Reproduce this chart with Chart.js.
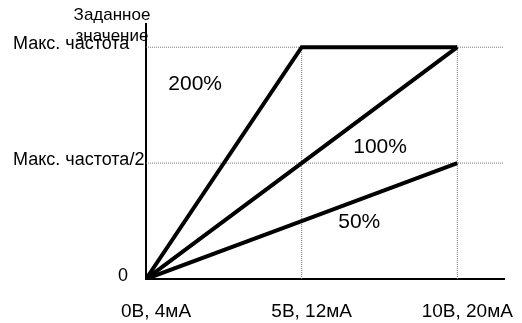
<!DOCTYPE html>
<html>
<head>
<meta charset="utf-8">
<script src="https://cdn.jsdelivr.net/npm/chart.js@4.4.1/dist/chart.umd.min.js"></script>
<style>
  html, body { margin: 0; padding: 0; background: #fff; }
  canvas { display: block; }
</style>
</head>
<body>
<canvas id="chart" width="522" height="323"></canvas>
<script>
// input signal points (0 = 0V/4mA, 5 = 5V/12mA, 10 = 10V/20mA)
const xValues = [0, 5, 10];
const xTickLabels = ['0В, 4мА', '5В, 12мА', '10В, 20мА'];

// setpoint as share of max frequency, per gain
const gain200 = [0, 1, 1];
const gain100 = [0, 0.5, 1];
const gain50 = [0, 0.25, 0.5];

const yTicks = [0, 0.5, 1];
const yTickLabels = ['0', 'Макс. частота/2', 'Макс. частота'];

// dotted helper lines
const guideX = [5, 10];
const guideY = [0.5, 1];

// gain annotations: text and position in data units
const gainNames = ['200%', '100%', '50%'];
const gainLabelX = [1.58, 7.52, 6.85];
const gainLabelY = [0.84, 0.57, 0.245];

const axisTitle = ['Заданное', 'значение'];

const FONT = '"Liberation Sans", Arial, sans-serif';

function toPoints(xs, ys) {
    return xs.map((x, i) => ({ x: x, y: ys[i] }));
}

const lineStyle = {
    borderColor: '#000',
    borderWidth: 4,
    pointRadius: 0,
    tension: 0,
    fill: false
};

const guideStyle = {
    borderColor: '#777',
    borderWidth: 1,
    borderDash: [1, 1],
    pointRadius: 0,
    fill: false
};

const datasets = [
    Object.assign({ label: '200%', data: toPoints(xValues, gain200) }, lineStyle),
    Object.assign({ label: '100%', data: toPoints(xValues, gain100) }, lineStyle),
    Object.assign({ label: '50%', data: toPoints(xValues, gain50) }, lineStyle)
];
guideX.forEach(function (gx) {
    datasets.push(Object.assign({ label: 'gx' + gx, data: [{ x: gx, y: 0 }, { x: gx, y: 1 }] }, guideStyle));
});
guideY.forEach(function (gy) {
    datasets.push(Object.assign({ label: 'gy' + gy, data: [{ x: 0, y: gy }, { x: 11.5, y: gy }] }, guideStyle));
});

// text labels: axis caption and gain names
const textPlugin = {
    id: 'chartText',
    afterDatasetsDraw(chart) {
        const ctx = chart.ctx;
        const xs = chart.scales.x;
        const ys = chart.scales.y;
        ctx.save();
        ctx.fillStyle = '#000';
        ctx.font = '21px ' + FONT;
        ctx.textAlign = 'center';
        ctx.textBaseline = 'middle';
        gainNames.forEach(function (name, i) {
            ctx.fillText(name, xs.getPixelForValue(gainLabelX[i]), ys.getPixelForValue(gainLabelY[i]));
        });
        ctx.font = '17px ' + FONT;
        ctx.textBaseline = 'alphabetic';
        const cx = chart.chartArea.left - 34;
        ctx.fillText(axisTitle[0], cx, 20);
        ctx.fillText(axisTitle[1], cx, 41);
        ctx.restore();
    }
};

new Chart(document.getElementById('chart').getContext('2d'), {
    type: 'line',
    data: { datasets: datasets },
    options: {
        responsive: false,
        animation: false,
        layout: { padding: { left: 13, right: 18, top: 24, bottom: 0 } },
        plugins: {
            legend: { display: false },
            tooltip: { enabled: false },
            title: { display: false }
        },
        scales: {
            x: {
                type: 'linear',
                min: 0,
                max: 11.5,
                afterBuildTicks: function (scale) {
                    scale.ticks = xValues.map(v => ({ value: v }));
                },
                afterFit: function (scale) {
                    scale.height = 44;
                    // labels may run past the plot edges, as in the original
                    scale.paddingLeft = 0;
                    scale.paddingRight = 0;
                },
                grid: { display: false, drawTicks: false },
                border: { display: true, color: '#000', width: 2 },
                ticks: {
                    padding: 21,
                    labelOffset: 10,
                    maxRotation: 0,
                    autoSkip: false,
                    color: '#000',
                    font: { family: FONT, size: 19 },
                    callback: function (value) {
                        const i = xValues.indexOf(value);
                        return i >= 0 ? xTickLabels[i] : '';
                    }
                }
            },
            y: {
                type: 'linear',
                min: 0,
                max: 1.1,
                afterBuildTicks: function (scale) {
                    scale.ticks = yTicks.map(v => ({ value: v }));
                },
                afterFit: function (scale) {
                    scale.width = 133;
                    scale.paddingTop = 0;
                    scale.paddingBottom = 0;
                },
                grid: { display: false, drawTicks: false },
                border: { display: true, color: '#000', width: 2 },
                ticks: {
                    padding: 0,
                    crossAlign: 'far',
                    labelOffset: -3,
                    autoSkip: false,
                    color: '#000',
                    font: { family: FONT, size: 18 },
                    callback: function (value) {
                        const i = yTicks.indexOf(value);
                        if (i < 0) return '';
                        // the zero sits right next to the axis
                        return value === 0 ? ' '.repeat(21) + yTickLabels[i] : yTickLabels[i];
                    }
                }
            }
        }
    },
    plugins: [textPlugin]
});
</script>
</body>
</html>
